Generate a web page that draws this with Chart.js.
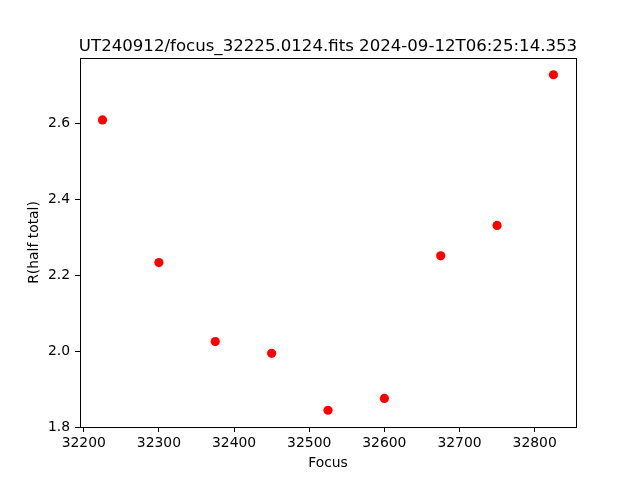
<!DOCTYPE html>
<html lang="en">
<head>
    <meta charset="utf-8">
    <title>focus_32225.0124</title>
    <style>
        html, body { margin: 0; padding: 0; background: #fff; }
        #wrap { width: 640px; height: 480px; }
    </style>
</head>
<body>
    <div id="wrap"><canvas id="myChart" width="640" height="480"></canvas></div>
    <script src="https://cdn.jsdelivr.net/npm/chart.js"></script>
    <script>
        // data
        const focus = [32225, 32300, 32375, 32450, 32525, 32600, 32675, 32750, 32825];
        const rHalf = [2.610, 2.234, 2.026, 1.995, 1.845, 1.876, 2.252, 2.332, 2.729];
        const xTicks = [32200, 32300, 32400, 32500, 32600, 32700, 32800];
        const yTicks = [1.8, 2.0, 2.2, 2.4, 2.6];
        const titleText = 'UT240912/focus_32225.0124.fits 2024-09-12T06:25:14.353';

        // matplotlib style 5% margins
        const pad = (arr) => {
            const lo = Math.min(...arr), hi = Math.max(...arr);
            const m = (hi - lo) * 0.05;
            return [lo - m, hi + m];
        };
        const [xMin, xMax] = pad(focus);
        const [yMin, yMax] = pad(rHalf);

        const FONT = 'DejaVu Sans';

        // frame + title drawn like matplotlib
        const framePlugin = {
            id: 'frame',
            afterDraw(chart) {
                const {ctx, chartArea: a} = chart;
                ctx.save();
                ctx.strokeStyle = '#000';
                ctx.lineWidth = 1;
                ctx.strokeRect(Math.round(a.left) + 0.5, Math.round(a.top) + 0.5,
                    Math.round(a.right - a.left), Math.round(a.bottom - a.top));
                ctx.fillStyle = '#000';
                ctx.font = '16.6px "' + FONT + '"';
                ctx.textAlign = 'center';
                ctx.textBaseline = 'alphabetic';
                ctx.fillText(titleText, (a.left + a.right) / 2, a.top - 7);
                ctx.restore();
            }
        };

        const ctx = document.getElementById('myChart').getContext('2d');
        const myChart = new Chart(ctx, {
            type: 'scatter',
            data: {
                datasets: [{
                    data: focus.map((f, i) => ({x: f, y: rHalf[i]})),
                    backgroundColor: '#ff0000',
                    borderColor: '#ff0000',
                    pointRadius: 4.6,
                    pointHoverRadius: 4.6,
                    borderWidth: 0
                }]
            },
            options: {
                responsive: false,
                animation: false,
                layout: { padding: { left: 0, top: 58, right: 64, bottom: 0 } },
                plugins: {
                    legend: { display: false },
                    tooltip: { enabled: false },
                    title: { display: false }
                },
                scales: {
                    x: {
                        type: 'linear',
                        min: xMin,
                        max: xMax,
                        afterBuildTicks: (s) => { s.ticks = xTicks.map(v => ({value: v})); },
                        afterFit: (s) => { s.height = 53; },
                        grid: { drawOnChartArea: false, drawTicks: true, tickLength: 5, color: '#000' },
                        border: { display: true, color: '#000' },
                        ticks: {
                            color: '#000', padding: 3, maxRotation: 0,
                            font: { family: FONT, size: 13.9 },
                            callback: (v) => String(v)
                        },
                        title: {
                            display: true, text: 'Focus', color: '#000',
                            font: { family: FONT, size: 13.9 },
                            padding: { top: 0, bottom: 8 }
                        }
                    },
                    y: {
                        type: 'linear',
                        min: yMin,
                        max: yMax,
                        afterBuildTicks: (s) => { s.ticks = yTicks.map(v => ({value: v})); },
                        afterFit: (s) => { s.width = 80; },
                        grid: { drawOnChartArea: false, drawTicks: true, tickLength: 5, color: '#000' },
                        border: { display: true, color: '#000' },
                        ticks: {
                            color: '#000', padding: 5,
                            font: { family: FONT, size: 13.9 },
                            callback: (v) => v.toFixed(1)
                        },
                        title: {
                            display: true, text: 'R(half total)', color: '#000',
                            font: { family: FONT, size: 13.9 },
                            padding: { top: 26, bottom: 0 }
                        }
                    }
                }
            },
            plugins: [framePlugin]
        });
    </script>
</body>
</html>
